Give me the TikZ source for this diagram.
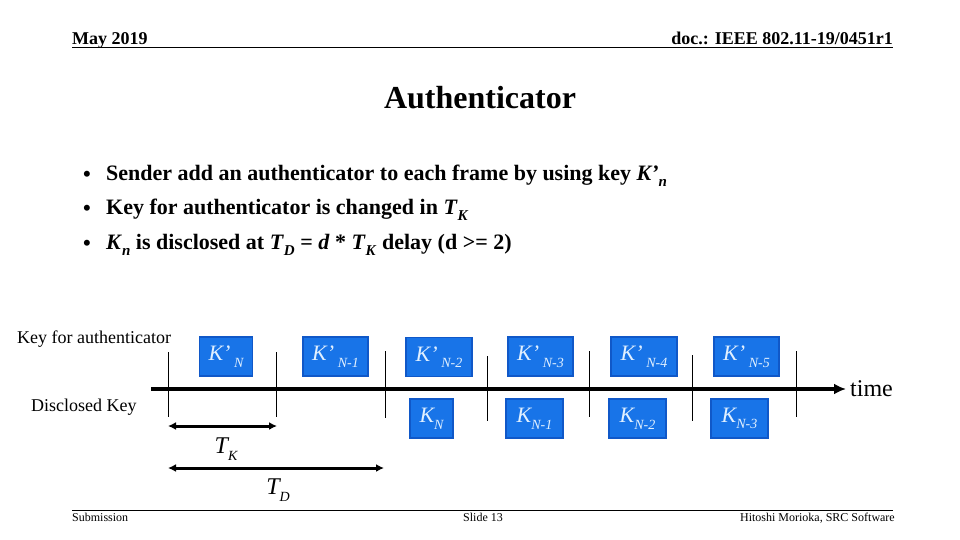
\documentclass[tikz,border=0pt]{standalone}
\usepackage{fontspec}
\setmainfont{Liberation Serif}
\usetikzlibrary{arrows.meta}
\definecolor{boxfill}{RGB}{24,116,232}
\definecolor{boxedge}{RGB}{16,88,200}
\definecolor{boxtext}{RGB}{225,240,255}
\newcommand{\fs}[1]{\fontsize{#1}{#1}\selectfont}
\newcommand{\bsub}[1]{\raisebox{-0.3em}{\fs{14}#1}}
\tikzset{
  keybox/.style={fill=boxfill, draw=boxedge, line width=1.5pt, inner sep=0pt,
    minimum height=39pt, text=boxtext, font=\fs{22}\itshape},
  tick/.style={line width=0.8pt},
  span/.style={line width=3pt, {Latex[length=8pt,width=8pt]}-{Latex[length=8pt,width=8pt]}},
  bullet/.style={anchor=west, inner sep=0pt, font=\fs{22}\bfseries},
  lbl/.style={inner sep=0pt, font=\fs{18}},
}
\begin{document}
\begin{tikzpicture}[x=1pt,y=-1pt]
\useasboundingbox (0,0) rectangle (960,540);
% header
\node[anchor=base west, inner sep=0pt, font=\fs{18}\bfseries] (date) at (72,45) {May 2019};
\node[anchor=base east, inner sep=0pt, font=\fs{18}\bfseries] (doc) at (893,45) {doc.: IEEE 802.11-19/0451r1};
\coordinate (hl) at (72,48); \coordinate (hr) at (893,48);
\draw[line width=1pt] (hl) -- (hr);
% title
\node[inner sep=0pt, font=\fs{32}\bfseries] (title) at (480,98) {Authenticator};
% bullets
\foreach \y/\n in {176/c1, 210/c2, 245/c3}{
  \node[inner sep=0pt, font=\fs{22}\bfseries] (\n) at (87,\y) {•};
}
\node[bullet] (b1) at (106,176) {Sender add an authenticator to each frame by using key \textit{K’}\raisebox{-0.25em}{\fs{15}\textit{n}}};
\node[bullet] (b2) at (106,210) {Key for authenticator is changed in \textit{T}\raisebox{-0.25em}{\fs{15}\textit{K}}};
\node[bullet] (b3) at (106,245) {\textit{K}\raisebox{-0.25em}{\fs{15}\textit{n}} is disclosed at \textit{T}\raisebox{-0.25em}{\fs{15}\textit{D}} = \textit{d} * \textit{T}\raisebox{-0.25em}{\fs{15}\textit{K}} delay (d >= 2)};
% labels
\node[lbl, anchor=west] (kfa) at (17,339) {Key for authenticator};
\node[lbl, anchor=west] (dk) at (31,407) {Disclosed Key};
% timeline
\coordinate (ts) at (151,389); \coordinate (te) at (846,389);
\draw[line width=4pt, -{Latex[length=12pt,width=11pt]}] (ts) -- (te);
\node[anchor=west, inner sep=0pt, font=\fs{24}] (time) at (850,389) {time};
% ticks
\foreach \x/\a/\b [count=\i] in {168/352/417, 276/352/417, 385/351/418, 487/356/421, 589/351/417, 692/355/421, 796/351/417}{
  \coordinate (t\i a) at (\x,\a); \coordinate (t\i b) at (\x,\b);
  \draw[tick] (t\i a) -- (t\i b);
}
% top boxes
\node[keybox, minimum width=53pt] (kp1) at (226,356.5) {K’\,\bsub{N}};
\node[keybox, minimum width=65pt] (kp2) at (335.5,356.5) {K’\,\bsub{N-1}};
\node[keybox, minimum width=66pt] (kp3) at (439,357) {K’\,\bsub{N-2}};
\node[keybox, minimum width=65pt] (kp4) at (540.5,356.5) {K’\,\bsub{N-3}};
\node[keybox, minimum width=66pt] (kp5) at (644,356.5) {K’\,\bsub{N-4}};
\node[keybox, minimum width=65pt] (kp6) at (746.5,356.5) {K’\,\bsub{N-5}};
% bottom boxes
\node[keybox, minimum width=43pt] (k1) at (431.5,418.5) {K\bsub{N}};
\node[keybox, minimum width=57pt] (k2) at (534.5,418.5) {K\bsub{N-1}};
\node[keybox, minimum width=57pt] (k3) at (637.5,418.5) {K\bsub{N-2}};
\node[keybox, minimum width=57pt] (k4) at (739.5,418.5) {K\bsub{N-3}};
% spans
\coordinate (tk1) at (168,426); \coordinate (tk2) at (277,426);
\draw[span] (tk1) -- (tk2);
\coordinate (td1) at (168,468); \coordinate (td2) at (384,468);
\draw[span] (td1) -- (td2);
\node[inner sep=0pt, font=\fs{24}\itshape] (tklbl) at (226,449) {T\bsub{K}};
\node[inner sep=0pt, font=\fs{24}\itshape] (tdlbl) at (278,490) {T\bsub{D}};
% footer
\coordinate (fl) at (72,510); \coordinate (fr) at (893,510);
\draw[line width=1pt] (fl) -- (fr);
\node[anchor=base west, inner sep=0pt, font=\fs{12}] (sub) at (72,521) {Submission};
\node[anchor=base, inner sep=0pt, font=\fs{12}] (slide) at (483,521) {Slide 13};
\node[anchor=base east, inner sep=0pt, font=\fs{12}] (auth) at (895,521) {Hitoshi Morioka, SRC Software};
\end{tikzpicture}
\end{document}
